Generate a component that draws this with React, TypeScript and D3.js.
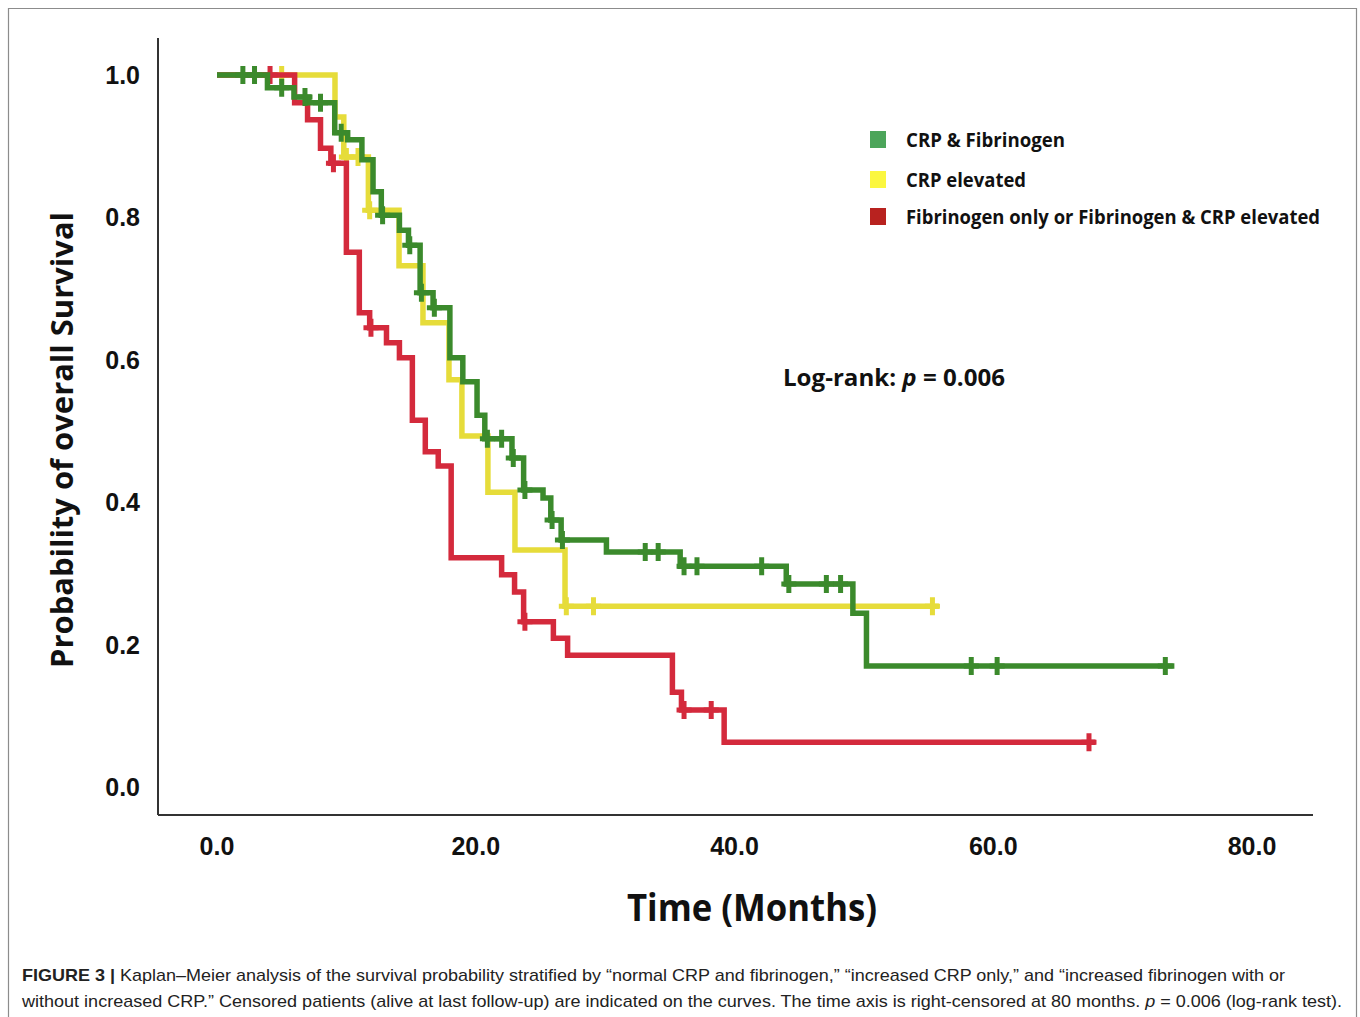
import React from "react";
import * as d3 from "d3";

// ---- Data ----
const greenTimes = [3.9, 5.95, 7.1, 9.1, 10.1, 11.2, 12.06, 12.7, 14.1, 14.8, 15.7, 16.7, 18.0, 19.0, 20.1, 20.7, 22.8, 23.7, 25.2, 25.8, 26.6, 30.1, 35.8, 44.0, 49.15, 50.2];
const greenSurv = [0.982, 0.969, 0.961, 0.919, 0.909, 0.881, 0.836, 0.803, 0.782, 0.761, 0.694, 0.673, 0.603, 0.569, 0.522, 0.489, 0.462, 0.417, 0.406, 0.375, 0.347, 0.33, 0.31, 0.285, 0.244, 0.17];
const greenEnd = 74.0;
const greenCensor = [2.0, 2.9, 5.0, 6.8, 8.0, 9.6, 12.8, 14.9, 15.8, 16.8, 20.9, 22.0, 22.9, 23.8, 25.9, 26.7, 33.1, 34.1, 36.1, 37.1, 42.1, 44.2, 47.1, 48.2, 58.3, 60.3, 73.3];

const yellowTimes = [9.12, 9.8, 11.7, 14.07, 15.92, 17.93, 18.93, 20.94, 23.03, 26.9];
const yellowSurv = [0.941, 0.885, 0.81, 0.732, 0.652, 0.572, 0.493, 0.414, 0.333, 0.254];
const yellowEnd = 55.8;
const yellowCensor = [5.0, 10.0, 10.9, 11.8, 27.0, 29.1, 55.3];

const redTimes = [6.0, 7.0, 8.0, 8.8, 10.0, 11.0, 11.8, 13.1, 14.1, 15.1, 16.1, 17.1, 18.1, 22.0, 23.0, 23.7, 26.0, 27.1, 35.2, 35.9, 39.2];
const redSurv = [0.961, 0.937, 0.897, 0.876, 0.751, 0.666, 0.645, 0.624, 0.603, 0.515, 0.471, 0.451, 0.322, 0.298, 0.274, 0.232, 0.209, 0.185, 0.133, 0.108, 0.063];
const redEnd = 67.9;
const redCensor = [4.1, 9.0, 11.9, 23.8, 36.1, 38.2, 67.4];

const xTicks = [0, 20, 40, 60, 80];
const yTicks = [0, 0.2, 0.4, 0.6, 0.8, 1.0];

const legendLabels = ["CRP & Fibrinogen", "CRP elevated", "Fibrinogen only or Fibrinogen & CRP elevated"];

const FONT = "'Open Sans', 'DejaVu Sans', sans-serif";

const xScale = d3.scaleLinear().domain([0, 80]).range([217, 1252]);
const yScale = d3.scaleLinear().domain([0, 1]).range([787, 75]);

type Series = { times: number[]; surv: number[]; end: number; censor: number[]; color: string };

const series: Series[] = [
  { times: yellowTimes, surv: yellowSurv, end: yellowEnd, censor: yellowCensor, color: "#e6dc3a" },
  { times: redTimes, surv: redSurv, end: redEnd, censor: redCensor, color: "#d42a3c" },
  { times: greenTimes, surv: greenSurv, end: greenEnd, censor: greenCensor, color: "#3b8a2c" },
];

function survAt(s: Series, t: number): number {
  let p = 1;
  for (let i = 0; i < s.times.length; i++) {
    if (s.times[i] <= t) p = s.surv[i];
  }
  return p;
}

const line = d3
  .line<[number, number]>()
  .x((d) => xScale(d[0]))
  .y((d) => yScale(d[1]))
  .curve(d3.curveStepAfter);

function pathFor(s: Series): string {
  const pts: [number, number][] = [[0, 1]];
  s.times.forEach((t, i) => pts.push([t, s.surv[i]]));
  pts.push([s.end, s.surv[s.surv.length - 1]]);
  return line(pts) || "";
}

export default function App() {
  return (
    <svg
      width={1360}
      height={1017}
      style={{ position: "absolute", left: 0, top: 0, background: "#fff" }}
    >
      <rect x={0} y={0} width={1360} height={1017} fill="#fff" />
      {/* frame */}
      <path d="M8.5,1017 V8.5 H1356.5 V1017" fill="none" stroke="#8c8c8c" strokeWidth={1.2} />

      {/* axes */}
      <line x1={158} y1={38} x2={158} y2={815} stroke="#333" strokeWidth={2} />
      <line x1={158} y1={815} x2={1313} y2={815} stroke="#333" strokeWidth={2} />

      {yTicks.map((t) => (
        <text
          key={"y" + t}
          x={140}
          y={yScale(t)}
          dy="0.36em"
          textAnchor="end"
          fontFamily="'Liberation Sans', Arial, sans-serif"
          fontWeight={700}
          fontSize={25}
          fill="#111"
        >
          {t.toFixed(1)}
        </text>
      ))}
      {xTicks.map((t) => (
        <text
          key={"x" + t}
          x={xScale(t)}
          y={855}
          textAnchor="middle"
          fontFamily="'Liberation Sans', Arial, sans-serif"
          fontWeight={700}
          fontSize={25}
          fill="#111"
        >
          {t.toFixed(1)}
        </text>
      ))}

      {/* axis titles */}
      <text
        transform="translate(73,440) rotate(-90)"
        textAnchor="middle"
        fontFamily={FONT}
        fontWeight={700}
        fontSize={30}
        textLength={456}
        lengthAdjust="spacingAndGlyphs"
        fill="#111"
      >
        Probability of overall Survival
      </text>
      <text
        x={752}
        y={921}
        textAnchor="middle"
        fontFamily={FONT}
        fontWeight={700}
        fontSize={37}
        textLength={250}
        lengthAdjust="spacingAndGlyphs"
        fill="#111"
      >
        Time (Months)
      </text>

      {/* curves */}
      {series.map((s, i) => (
        <g key={"s" + i}>
          <path d={pathFor(s)} fill="none" stroke={s.color} strokeWidth={5.5} strokeLinejoin="miter" strokeLinecap="butt" />
          {s.censor.map((c, j) => {
            const cx = xScale(c);
            const cy = yScale(survAt(s, c));
            return (
              <path
                key={j}
                d={`M${cx - 7.5},${cy} H${cx + 7.5} M${cx},${cy - 9} V${cy + 9}`}
                stroke={s.color}
                strokeWidth={5}
                fill="none"
              />
            );
          })}
        </g>
      ))}

      {/* legend */}
      {[
        { c: "#4ca55a", y: 131 },
        { c: "#fbf73f", y: 171 },
        { c: "#b8221f", y: 208 },
      ].map((d, i) => (
        <g key={"l" + i}>
          <rect x={870} y={d.y} width={16} height={17} fill={d.c} />
          <text
            x={906}
            y={d.y + 16}
            fontFamily={FONT}
            fontWeight={700}
            fontSize={19}
            fill="#111"
            textLength={[159, 120, 414][i]}
            lengthAdjust="spacingAndGlyphs"
          >
            {legendLabels[i]}
          </text>
        </g>
      ))}

      {/* log-rank */}
      <text x={783} y={386} fontFamily={FONT} fontWeight={700} fontSize={24} fill="#111" textLength={222} lengthAdjust="spacingAndGlyphs">
        Log-rank: <tspan fontStyle="italic">p</tspan> = 0.006
      </text>

      {/* caption */}
      <text x={22} y={981} fontFamily="'Liberation Sans', Arial, sans-serif" fontSize={17} fill="#222" textLength={1263} lengthAdjust="spacingAndGlyphs">
        <tspan fontWeight={700}>FIGURE 3 |</tspan> Kaplan–Meier analysis of the survival probability stratified by “normal CRP and fibrinogen,” “increased CRP only,” and “increased fibrinogen with or
      </text>
      <text x={22} y={1007} fontFamily="'Liberation Sans', Arial, sans-serif" fontSize={17} fill="#222" textLength={1320} lengthAdjust="spacingAndGlyphs">
        without increased CRP.” Censored patients (alive at last follow-up) are indicated on the curves. The time axis is right-censored at 80 months. <tspan fontStyle="italic">p</tspan> = 0.006 (log-rank test).
      </text>
    </svg>
  );
}
